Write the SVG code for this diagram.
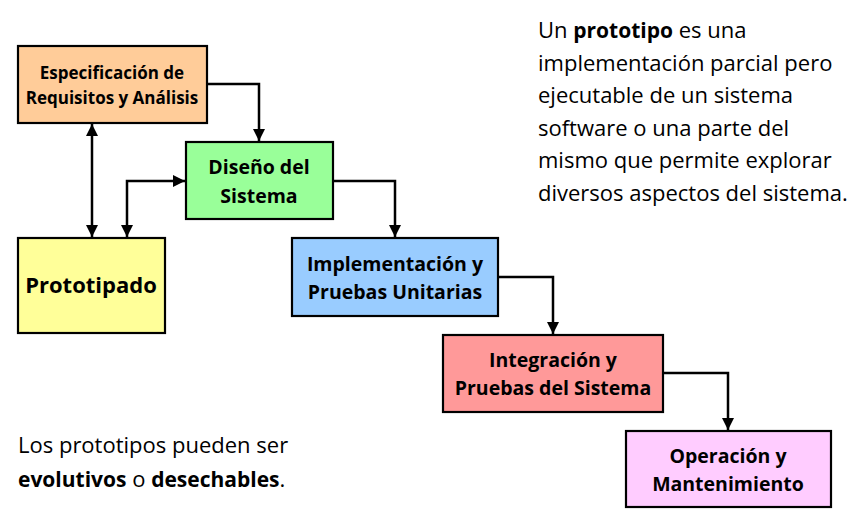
<svg xmlns="http://www.w3.org/2000/svg" width="854" height="520" viewBox="0 0 854 520">
<defs>
<marker id="ah" viewBox="0 0 12 12" refX="12" refY="6" markerWidth="12" markerHeight="12" markerUnits="userSpaceOnUse" orient="auto-start-reverse">
<path d="M0,0 L12,6 L0,12 z" fill="#000"/>
</marker>
<style>
.box{stroke:#000;stroke-width:2.2}
.t{font-family:"Open Sans",Lato,sans-serif;font-weight:bold;fill:#000;text-anchor:middle;font-variant-ligatures:none}
.c{fill:none;stroke:#000;stroke-width:2.5}
.p{font-family:"Open Sans",Lato,sans-serif;font-size:22px;fill:#000;font-variant-ligatures:none}
.b{font-weight:bold;font-size:21px}
</style>
</defs>
<rect width="854" height="520" fill="#fff"/>
<g id="connectors">
<path class="c" d="M207,84 H259 V141" marker-end="url(#ah)"/>
<path class="c" d="M92,124 V237" marker-start="url(#ah)" marker-end="url(#ah)"/>
<path class="c" d="M127,237 V181 H185" marker-start="url(#ah)" marker-end="url(#ah)"/>
<path class="c" d="M333,181 H395 V237" marker-end="url(#ah)"/>
<path class="c" d="M498,277 H553 V334" marker-end="url(#ah)"/>
<path class="c" d="M663,373 H728 V430" marker-end="url(#ah)"/>
</g>
<g id="especificacion">
<rect class="box" x="18" y="46" width="189" height="77" fill="#FFCC99"/>
<text class="t" x="112" y="79" font-size="17">Especificación de</text>
<text class="t" x="112" y="104" font-size="17">Requisitos y Análisis</text>
</g>
<g id="diseno">
<rect class="box" x="186" y="142" width="147" height="77" fill="#99FF99"/>
<text class="t" x="259" y="174" font-size="19.5">Diseño del</text>
<text class="t" x="259" y="203" font-size="19.5">Sistema</text>
</g>
<g id="prototipado">
<rect class="box" x="18" y="238" width="147" height="95" fill="#FFFF99" stroke-width="3"/>
<text class="t" x="91" y="293" font-size="22">Prototipado</text>
</g>
<g id="implementacion">
<rect class="box" x="292" y="238" width="206" height="78" fill="#99CCFF"/>
<text class="t" x="395" y="271" font-size="19.5">Implementación y</text>
<text class="t" x="395" y="299" font-size="19.5">Pruebas Unitarias</text>
</g>
<g id="integracion">
<rect class="box" x="443" y="335" width="220" height="77" fill="#FF9999"/>
<text class="t" x="553" y="367" font-size="19.5">Integración y</text>
<text class="t" x="553" y="395" font-size="19.5">Pruebas del Sistema</text>
</g>
<g id="operacion">
<rect class="box" x="626" y="431" width="205" height="76" fill="#FFCCFF"/>
<text class="t" x="728" y="463" font-size="19.5">Operación y</text>
<text class="t" x="728" y="491" font-size="19.5">Mantenimiento</text>
</g>
<g id="definicion">
<text class="p" x="538" y="38">Un <tspan class="b">prototipo</tspan> es una</text>
<text class="p" x="538" y="71">implementación parcial pero</text>
<text class="p" x="538" y="103">ejecutable de un sistema</text>
<text class="p" x="538" y="136">software o una parte del</text>
<text class="p" x="538" y="168">mismo que permite explorar</text>
<text class="p" x="538" y="201">diversos aspectos del sistema.</text>
</g>
<g id="nota">
<text class="p" x="18" y="453">Los prototipos pueden ser</text>
<text class="p" x="18" y="487"><tspan class="b">evolutivos</tspan> o <tspan class="b">desechables</tspan>.</text>
</g>
</svg>
